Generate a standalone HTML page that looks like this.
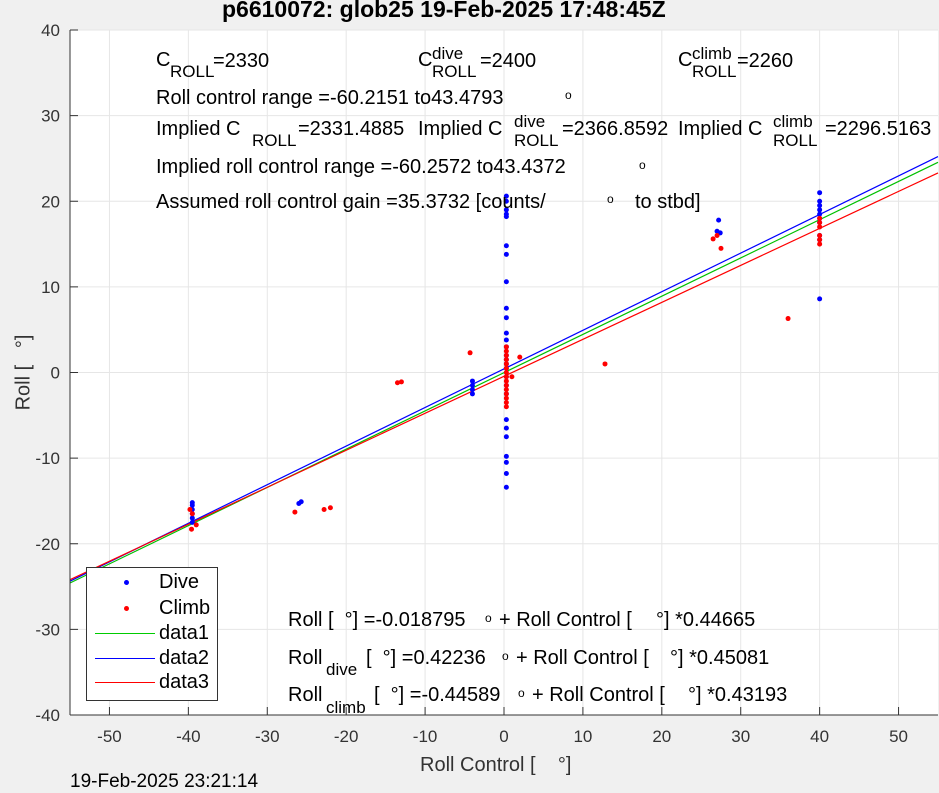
<!DOCTYPE html>
<html><head><meta charset="utf-8"><style>
body{margin:0;width:939px;height:792px;background:#f0f0f0;font-family:"Liberation Sans",sans-serif;overflow:hidden;position:relative}
svg{position:absolute;left:0;top:0}
.t{position:absolute;font-size:20px;line-height:23px;color:#000;white-space:nowrap}
.s{position:absolute;font-size:17px;line-height:19px;color:#000;white-space:nowrap}
.o{position:absolute;font-size:12px;line-height:12px;color:#000}
</style></head><body>
<svg width="939" height="792">
<rect x="70" y="30" width="868" height="685" fill="#fff"/>
<g id="grid"></g><g id="lines"></g><g id="pts"></g><g id="axes"></g>
</svg>
<div class="t" style="left:222px;top:-4px;font-size:23px;line-height:26px;font-weight:bold">p6610072: glob25 19-Feb-2025 17:48:45Z</div>

<div>
<div class="t" style="left:156px;top:49px">C</div><div class="s" style="left:170px;top:62px">ROLL</div><div class="t" style="left:213px;top:50px">=2330</div></div>
<div>
<div class="t" style="left:418px;top:49px">C</div><div class="s" style="left:432px;top:44px">dive</div><div class="s" style="left:432px;top:62px">ROLL</div><div class="t" style="left:480px;top:50px">=2400</div></div>
<div>
<div class="t" style="left:678px;top:49px">C</div><div class="s" style="left:692px;top:44px">climb</div><div class="s" style="left:692px;top:62px">ROLL</div><div class="t" style="left:737px;top:50px">=2260</div></div>

<div class="t" style="left:156px;top:87px">Roll control range =-60.2151 to43.4793</div>
<div class="o" style="left:565px;top:89px">o</div>

<div>
<div class="t" style="left:156px;top:118px">Implied C</div><div class="s" style="left:252px;top:131px">ROLL</div><div class="t" style="left:298px;top:118px">=2331.4885</div></div>
<div>
<div class="t" style="left:418px;top:118px">Implied C</div><div class="s" style="left:514px;top:112px">dive</div><div class="s" style="left:514px;top:131px">ROLL</div><div class="t" style="left:562px;top:118px">=2366.8592</div></div>
<div>
<div class="t" style="left:678px;top:118px">Implied C</div><div class="s" style="left:773px;top:112px">climb</div><div class="s" style="left:773px;top:131px">ROLL</div><div class="t" style="left:825px;top:118px">=2296.5163</div></div>

<div class="t" style="left:156px;top:156px">Implied roll control range =-60.2572 to43.4372</div>
<div class="o" style="left:639px;top:159px">o</div>
<div class="t" style="left:156px;top:191px">Assumed roll control gain =35.3732 [counts/</div>
<div class="o" style="left:607px;top:193px">o</div>
<div class="t" style="left:635px;top:191px">to stbd]</div>

<div>
<div class="t" style="left:288px;top:609px">Roll [ &nbsp;°] =-0.018795</div>
<div class="o" style="left:485px;top:612px">o</div>
<div class="t" style="left:499px;top:609px">+ Roll Control [</div>
<div class="t" style="left:656px;top:609px">°] *0.44665</div></div>
<div>
<div class="t" style="left:288px;top:647px">Roll</div><div class="s" style="left:326px;top:660px">dive</div>
<div class="t" style="left:366px;top:647px">[ &nbsp;°] =0.42236</div>
<div class="o" style="left:502px;top:650px">o</div>
<div class="t" style="left:516px;top:647px">+ Roll Control [</div>
<div class="t" style="left:670px;top:647px">°] *0.45081</div></div>
<div>
<div class="t" style="left:288px;top:684px">Roll</div><div class="s" style="left:326px;top:698px">climb</div>
<div class="t" style="left:374px;top:684px">[ &nbsp;°] =-0.44589</div>
<div class="o" style="left:518px;top:687px">o</div>
<div class="t" style="left:532px;top:684px">+ Roll Control [</div>
<div class="t" style="left:688px;top:684px">°] *0.43193</div></div>

<div class="t" style="left:420px;top:754px;color:#333">Roll Control [ &nbsp;&nbsp;&nbsp;°]</div>
<div class="t" style="left:-14px;top:361px;color:#333;transform:rotate(-90deg)">Roll [ &nbsp;&nbsp;°]</div>
<div class="t" style="left:70px;top:770px;font-size:19px">19-Feb-2025 23:21:14</div>
<div style="position:absolute;left:86px;top:567px;width:130px;height:132px;border:1px solid #333;background:#fff">
<div style="position:absolute;left:37px;top:12px;width:5px;height:5px;border-radius:50%;background:#00f"></div>
<div class="t" style="left:72px;top:3px">Dive</div>
<div style="position:absolute;left:37px;top:38px;width:5px;height:5px;border-radius:50%;background:#f00"></div>
<div class="t" style="left:72px;top:29px">Climb</div>
<div style="position:absolute;left:8px;top:65px;width:60px;height:1px;background:#0c0"></div>
<div class="t" style="left:72px;top:54px">data1</div>
<div style="position:absolute;left:8px;top:90px;width:60px;height:1px;background:#00f"></div>
<div class="t" style="left:72px;top:79px">data2</div>
<div style="position:absolute;left:8px;top:114px;width:60px;height:1px;background:#f00"></div>
<div class="t" style="left:72px;top:103px">data3</div>
</div>
<script>
const xTicks=[-50,-40,-30,-20,-10,0,10,20,30,40,50];
const yTicks=[-40,-30,-20,-10,0,10,20,30,40];
const fitNames=['data1','data2','data3'];
const fitIntercepts=[-0.018795,0.42236,-0.44589];
const fitSlopes=[0.44665,0.45081,0.43193];
const fitColors=['#00c000','#0000ff','#ff0000'];
const diveX=[0.3,0.3,0.3,0.3,0.3,0.3,0.3,0.3,0.3,0.3,0.3,0.3,0.3,0.3,0.3,0.3,0.3,0.3,0.3,0.3,0.3,0.3,0.3,0.3,0.3,0.3,0.3,-4,-4,-4,-4,-39.5,-39.5,-39.5,-39.5,-39.5,-39.5,-26,-25.7,40,40,40,40,40,40,40,40,40,40,27.2,27,27.4];
const diveY=[20.6,20,19,18.5,18.2,14.8,13.8,10.6,7.5,6.4,4.6,3.8,3,2,1.5,1,0.5,-0.5,-1.5,-2.5,-5.5,-6.5,-7.5,-9.8,-10.5,-11.8,-13.4,-1,-1.5,-2,-2.5,-15.2,-15.5,-16,-16.5,-17,-17.5,-15.3,-15.1,21,20,19.5,19,18.5,18,17.5,16,15.5,8.6,17.8,16.5,16.3];
const climbX=[0.3,0.3,0.3,0.3,0.3,0.3,0.3,0.3,0.3,0.3,0.3,0.3,0.3,0.3,0.3,1,2,-4.3,12.8,36,-13.5,-13,-26.5,-22.8,-22,-39.8,-39.5,-39.6,-39,40,40,40,40,40,40,26.5,27,27.5];
const climbY=[3,2.5,2,1.5,1,0.5,0,-0.5,-1,-1.5,-2,-2.5,-3,-3.5,-4,-0.5,1.8,2.3,1,6.3,-1.2,-1.1,-16.3,-16,-15.8,-16,-16.5,-18.3,-17.8,15,15.5,16,17,17.5,18,15.6,16,14.5];
const NS='http://www.w3.org/2000/svg';
const X=v=>70+(v+55)/110*868, Y=v=>30+(40-v)/80*685;
function mk(t,a,p){const e=document.createElementNS(NS,t);for(const k in a)e.setAttribute(k,a[k]);p.appendChild(e);return e;}
const g=document.getElementById('grid'),ax=document.getElementById('axes');
xTicks.forEach(v=>{
const l=mk('line',{x1:X(v),x2:X(v),y1:30,y2:715,stroke:'#e6e6e6'},g);


mk('line',{x1:X(v),x2:X(v),y1:715,y2:707,stroke:'#333'},ax);
const t=mk('text',{x:X(v),y:742,'text-anchor':'middle','font-size':17,fill:'#333','font-family':'Liberation Sans'},ax);


t.textContent=v;});
yTicks.forEach(v=>{
const l=mk('line',{x1:70,x2:938,y1:Y(v),y2:Y(v),stroke:'#e6e6e6'},g);


mk('line',{x1:70,x2:78,y1:Y(v),y2:Y(v),stroke:'#333'},ax);
const t=mk('text',{x:60,y:Y(v)+6,'text-anchor':'end','font-size':17,fill:'#333','font-family':'Liberation Sans'},ax);


t.textContent=v;});
mk('line',{x1:70,x2:70,y1:30,y2:715,stroke:'#333'},ax);
mk('line',{x1:70,x2:938,y1:715,y2:715,stroke:'#333'},ax);
const L=document.getElementById('lines');
fitNames.forEach((n,i)=>{const l=mk('line',{x1:X(-55),y1:Y(fitIntercepts[i]+fitSlopes[i]*-55),x2:X(55),y2:Y(fitIntercepts[i]+fitSlopes[i]*55),stroke:fitColors[i],'stroke-width':1.2},L);

});
const P=document.getElementById('pts');
diveX.forEach((x,i)=>{const c=mk('circle',{cx:X(x),cy:Y(diveY[i]),r:2.5,fill:'#00f'},P);

});
climbX.forEach((x,i)=>{const c=mk('circle',{cx:X(x),cy:Y(climbY[i]),r:2.5,fill:'#f00'},P);

});
</script>
</body></html>
